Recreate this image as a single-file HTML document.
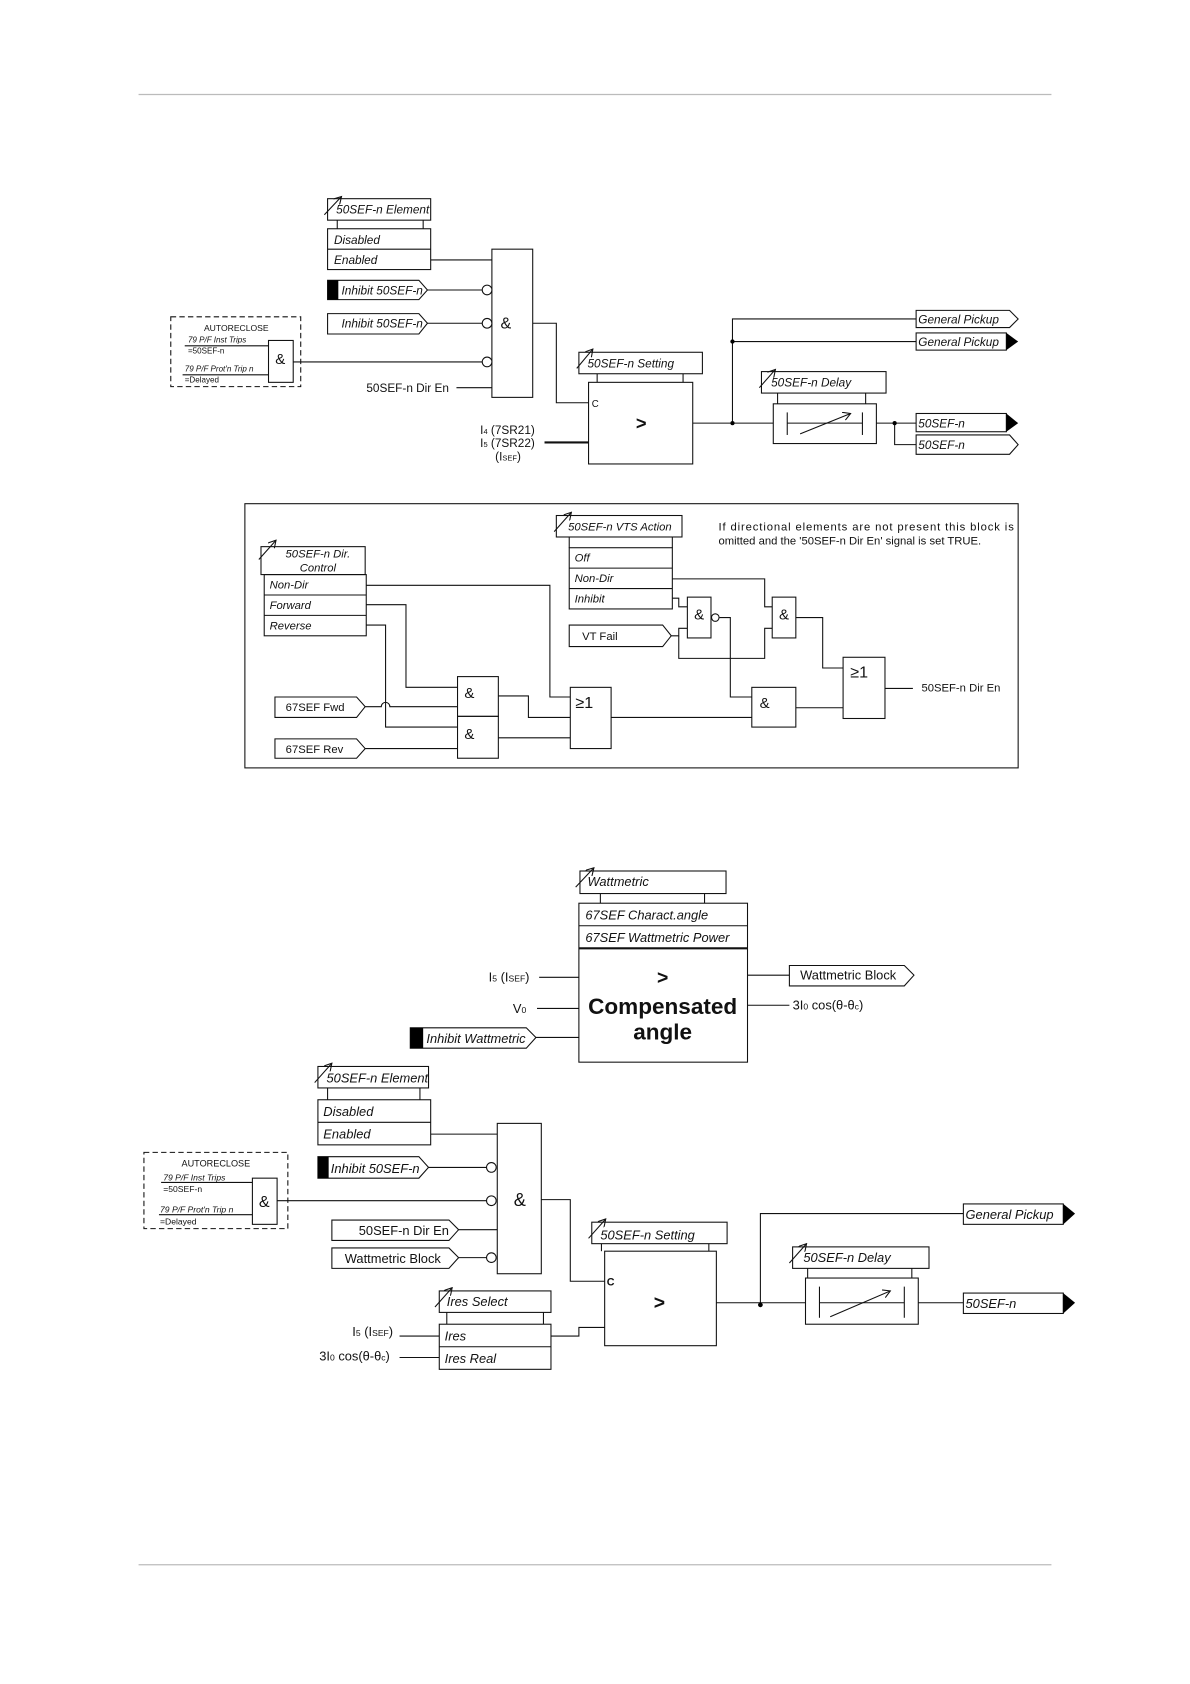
<!DOCTYPE html>
<html><head><meta charset="utf-8"><style>
html,body{margin:0;padding:0;background:#fff;}
svg{display:block;}
text{font-family:"Liberation Sans",Arial,sans-serif;fill:#111;}
.i{font-style:italic;}
</style></head><body>
<svg width="1190" height="1684" viewBox="0 0 1108 1568" xmlns="http://www.w3.org/2000/svg">
<defs>
<marker id="ah" markerWidth="8" markerHeight="8" refX="7" refY="4" orient="auto" markerUnits="userSpaceOnUse"><path d="M0,0 L7,4 L0,8" fill="none" stroke="#111" stroke-width="1"/></marker>
</defs>
<g stroke="#bbb" stroke-width="1.2"><line x1="129" y1="88" x2="979" y2="88"/><line x1="129" y1="1457" x2="979" y2="1457"/></g>

<g fill="none" stroke="#111" stroke-width="1">
<rect x="305" y="185" width="96" height="20"/><line x1="314" y1="205" x2="314" y2="213"/><line x1="394" y1="205" x2="394" y2="213"/>
<line x1="302" y1="200" x2="318" y2="183" marker-end="url(#ah)"/>
<rect x="305" y="213" width="96" height="38"/><line x1="305" y1="232" x2="401" y2="232"/>
<rect x="458" y="232" width="38" height="138"/>
<line x1="401" y1="242" x2="458" y2="242"/>
<path d="M305,261 H390 L398,270 L390,279 H305 Z"/>
<line x1="398" y1="270" x2="449" y2="270"/><circle cx="453.5" cy="270" r="4.5" fill="#fff"/>
<path d="M305,292 H390 L398,301 L390,311 H305 Z"/>
<line x1="398" y1="301" x2="449" y2="301"/><circle cx="453.5" cy="301" r="4.5" fill="#fff"/>
<rect x="159" y="295" width="121" height="65" stroke-dasharray="5,3"/>
<rect x="250" y="317" width="23" height="39"/>
<line x1="172" y1="322" x2="250" y2="322"/><line x1="170" y1="349" x2="250" y2="349"/>
<line x1="273" y1="337" x2="449" y2="337"/><circle cx="453.5" cy="337" r="4.5" fill="#fff"/>
<line x1="425" y1="361" x2="458" y2="361"/>
<polyline points="496,301 518,301 518,375 548,375"/>
<rect x="548" y="356" width="97" height="76"/>
<rect x="539" y="328" width="115" height="20"/><line x1="556" y1="348" x2="556" y2="356"/><line x1="636" y1="348" x2="636" y2="356"/>
<line x1="537" y1="343" x2="552" y2="325" marker-end="url(#ah)"/>
<line x1="507" y1="412" x2="548" y2="412" stroke-width="2"/>
<line x1="645" y1="394" x2="720" y2="394"/>
<polyline points="682,394 682,297 853,297"/><line x1="682" y1="318" x2="853" y2="318"/>
<path d="M853,289 H940 L948,297 L940,305 H853 Z"/>
<rect x="853" y="310" width="84" height="16"/>
<rect x="709" y="346" width="116" height="20"/><line x1="724" y1="366" x2="724" y2="376"/><line x1="806" y1="366" x2="806" y2="376"/>
<line x1="707" y1="361" x2="722" y2="344" marker-end="url(#ah)"/>
<rect x="720" y="376" width="96" height="37"/>
<line x1="733" y1="384" x2="733" y2="405"/><line x1="803" y1="384" x2="803" y2="405"/><line x1="733" y1="394" x2="803" y2="394"/>
<line x1="745" y1="404" x2="792" y2="385" marker-end="url(#ah)"/>
<line x1="816" y1="394" x2="853" y2="394"/><polyline points="833,394 833,414 853,414"/>
<rect x="853" y="385" width="84" height="17"/>
<path d="M853,405 H940 L948,414 L940,423 H853 Z"/>

<rect x="228" y="469" width="720" height="246"/>
<rect x="243" y="509" width="97" height="26"/>
<line x1="241" y1="521" x2="257" y2="503" marker-end="url(#ah)"/>
<rect x="246" y="535" width="95" height="57"/><line x1="246" y1="554" x2="341" y2="554"/><line x1="246" y1="573" x2="341" y2="573"/>
<rect x="518" y="480" width="117" height="20"/><line x1="530" y1="500" x2="530" y2="510"/><line x1="626" y1="500" x2="626" y2="510"/>
<line x1="516" y1="495" x2="532" y2="477" marker-end="url(#ah)"/>
<rect x="530" y="510" width="96" height="57"/><line x1="530" y1="529" x2="626" y2="529"/><line x1="530" y1="548" x2="626" y2="548"/>
<path d="M530,582 H617 L625,592 L617,602 H530 Z"/>
<rect x="640" y="556" width="22" height="38"/><circle cx="666" cy="575" r="3.5" fill="#fff"/>
<rect x="719" y="556" width="22" height="38"/>
<rect x="785" y="612" width="39" height="57"/>
<rect x="700" y="640" width="41" height="37"/>
<rect x="426" y="630" width="38" height="37"/><rect x="426" y="667" width="38" height="39"/>
<rect x="531" y="640" width="38" height="57"/>
<path d="M256,649 H332 L340,658 L332,668 H256 Z"/>
<path d="M256,688 H332 L340,697 L332,706 H256 Z"/>
<polyline points="341,545 512,545 512,649 531,649"/>
<polyline points="341,563 378,563 378,640 426,640"/>
<polyline points="341,582 359,582 359,677 426,677"/>
<path d="M340,658 H355 A4,4 0 0 1 363,658 H426"/>
<line x1="340" y1="697" x2="426" y2="697"/>
<polyline points="464,648 492,648 492,668 531,668"/>
<line x1="464" y1="687" x2="531" y2="687"/>
<line x1="569" y1="668" x2="700" y2="668"/>
<polyline points="626,539 712,539 712,565 719,565"/>
<polyline points="626,557 632,557 632,565 640,565"/>
<polyline points="625,592 632,592 632,585 640,585"/>
<polyline points="632,592 632,613 712,613 712,585 719,585"/>
<polyline points="670,575 680,575 680,649 700,649"/>
<polyline points="741,575 766,575 766,622 785,622"/>
<line x1="741" y1="659" x2="785" y2="659"/>
<line x1="824" y1="641" x2="850" y2="641"/>

<rect x="540" y="811" width="136" height="21"/><line x1="559" y1="832" x2="559" y2="841"/><line x1="656" y1="832" x2="656" y2="841"/>
<line x1="536" y1="826" x2="553" y2="808" marker-end="url(#ah)"/>
<rect x="539" y="841" width="157" height="148"/><line x1="539" y1="862" x2="696" y2="862"/><line x1="539" y1="883" x2="696" y2="883" stroke-width="2"/>
<line x1="502" y1="910" x2="539" y2="910"/><line x1="500" y1="939" x2="539" y2="939"/>
<path d="M382,957 H490 L499,966 L490,976 H382 Z"/><line x1="499" y1="966" x2="539" y2="966"/>
<line x1="696" y1="908" x2="735" y2="908"/>
<path d="M735,899 H842 L851,908 L842,918 H735 Z"/>
<line x1="696" y1="936" x2="735" y2="936"/>

<rect x="296" y="993" width="103" height="20"/><line x1="305" y1="1013" x2="305" y2="1024"/><line x1="391" y1="1013" x2="391" y2="1024"/>
<line x1="293" y1="1008" x2="309" y2="990" marker-end="url(#ah)"/>
<rect x="296" y="1024" width="105" height="42"/><line x1="296" y1="1045" x2="401" y2="1045"/>
<rect x="463" y="1046" width="41" height="140"/>
<line x1="401" y1="1056" x2="463" y2="1056"/>
<path d="M296,1077 H390 L399,1087 L390,1097 H296 Z"/><line x1="399" y1="1087" x2="453" y2="1087"/><circle cx="457.5" cy="1087" r="4.5" fill="#fff"/>
<rect x="134" y="1073" width="134" height="71" stroke-dasharray="5,3"/>
<rect x="235" y="1097" width="23" height="43"/>
<line x1="150" y1="1101" x2="235" y2="1101"/><line x1="148" y1="1131" x2="235" y2="1131"/>
<line x1="258" y1="1118" x2="453" y2="1118"/><circle cx="457.5" cy="1118" r="4.5" fill="#fff"/>
<path d="M309,1136 H418 L427,1145 L418,1155 H309 Z"/><line x1="427" y1="1145" x2="463" y2="1145"/>
<path d="M309,1162 H418 L427,1171 L418,1181 H309 Z"/><line x1="427" y1="1171" x2="453" y2="1171"/><circle cx="457.5" cy="1171" r="4.5" fill="#fff"/>
<polyline points="504,1117 531,1117 531,1193 563,1193"/>
<rect x="563" y="1165" width="104" height="88"/>
<rect x="551" y="1138" width="126" height="20"/><line x1="560" y1="1158" x2="560" y2="1165"/><line x1="660" y1="1158" x2="660" y2="1165"/>
<line x1="548" y1="1153" x2="564" y2="1135" marker-end="url(#ah)"/>
<rect x="409" y="1202" width="104" height="20"/><line x1="416" y1="1222" x2="416" y2="1233"/><line x1="506" y1="1222" x2="506" y2="1233"/>
<line x1="405" y1="1217" x2="421" y2="1199" marker-end="url(#ah)"/>
<rect x="409" y="1233" width="104" height="42"/><line x1="409" y1="1254" x2="513" y2="1254"/>
<line x1="372" y1="1244" x2="409" y2="1244"/><line x1="372" y1="1264" x2="409" y2="1264"/>
<polyline points="513,1244 539,1244 539,1236 563,1236"/>
<line x1="667" y1="1213" x2="750" y2="1213"/>
<polyline points="708,1215 708,1130 897,1130"/>
<rect x="897" y="1121" width="93" height="19"/>
<rect x="738" y="1161" width="127" height="20"/><line x1="752" y1="1181" x2="752" y2="1190"/><line x1="849" y1="1181" x2="849" y2="1190"/>
<line x1="735" y1="1176" x2="751" y2="1158" marker-end="url(#ah)"/>
<rect x="750" y="1190" width="105" height="43"/>
<line x1="763" y1="1198" x2="763" y2="1227"/><line x1="842" y1="1198" x2="842" y2="1227"/><line x1="763" y1="1213" x2="842" y2="1213"/>
<line x1="773" y1="1226" x2="829" y2="1202" marker-end="url(#ah)"/>
<line x1="855" y1="1213" x2="897" y2="1213"/>
<rect x="897" y="1204" width="93" height="19"/>
</g>

<g fill="#000">
<rect x="305" y="261" width="10" height="18"/>
<polygon points="937,310 948,318 937,326"/>
<polygon points="937,385 948,394 937,402"/>
<circle cx="682" cy="394" r="2"/><circle cx="682" cy="318" r="2"/><circle cx="833" cy="394" r="2"/>
<rect x="382" y="957" width="12" height="19"/>
<rect x="296" y="1077" width="10" height="20"/>
<polygon points="990,1121 1001,1130 990,1140"/>
<polygon points="990,1204 1001,1213 990,1223"/>
<circle cx="708" cy="1215" r="2.2"/>
</g>

<g font-size="11">
<text x="313" y="199" class="i">50SEF-n Element</text>
<text x="311" y="227" class="i">Disabled</text>
<text x="311" y="246" class="i">Enabled</text>
<text x="318" y="274" class="i">Inhibit 50SEF-n</text>
<text x="318" y="305" class="i">Inhibit 50SEF-n</text>
<text x="471" y="306" font-size="15" text-anchor="middle">&amp;</text>
<text x="220" y="308" font-size="8" text-anchor="middle">AUTORECLOSE</text>
<text x="175" y="319" font-size="7.5" class="i">79 P/F Inst Trips</text>
<text x="175" y="329" font-size="7.5">=50SEF-n</text>
<text x="172" y="346" font-size="7.5" class="i">79 P/F Prot'n Trip n</text>
<text x="172" y="356" font-size="7.5">=Delayed</text>
<text x="261" y="339" font-size="14" text-anchor="middle">&amp;</text>
<text x="418" y="365" text-anchor="end">50SEF-n Dir En</text>
<text x="547" y="342" class="i">50SEF-n Setting</text>
<text x="551" y="379" font-size="9">C</text>
<text x="597" y="400" font-size="17" font-weight="bold" text-anchor="middle">&gt;</text>
<text x="498" y="404" text-anchor="end">I<tspan font-size="7">4</tspan> (7SR21)</text>
<text x="498" y="416" text-anchor="end">I<tspan font-size="7">5</tspan> (7SR22)</text>
<text x="485" y="429" text-anchor="end">(I<tspan font-size="7">SEF</tspan>)</text>
<text x="855" y="301" class="i">General Pickup</text>
<text x="855" y="322" class="i">General Pickup</text>
<text x="718" y="360" class="i">50SEF-n Delay</text>
<text x="855" y="398" class="i">50SEF-n</text>
<text x="855" y="418" class="i">50SEF-n</text>
</g>

<g font-size="10.5">
<text x="296" y="519" class="i" text-anchor="middle">50SEF-n Dir.</text>
<text x="296" y="532" class="i" text-anchor="middle">Control</text>
<text x="251" y="548" class="i">Non-Dir</text>
<text x="251" y="567" class="i">Forward</text>
<text x="251" y="586" class="i">Reverse</text>
<text x="529" y="494" class="i">50SEF-n VTS Action</text>
<text x="535" y="523" class="i">Off</text>
<text x="535" y="542" class="i">Non-Dir</text>
<text x="535" y="561" class="i">Inhibit</text>
<text x="542" y="596">VT Fail</text>
<text x="669" y="494" textLength="275" lengthAdjust="spacing">If directional elements are not present this block is</text>
<text x="669" y="507">omitted and the '50SEF-n Dir En' signal is set TRUE.</text>
<text x="651" y="577" font-size="14" text-anchor="middle">&amp;</text>
<text x="730" y="577" font-size="14" text-anchor="middle">&amp;</text>
<text x="712" y="659" font-size="14" text-anchor="middle">&amp;</text>
<text x="437" y="650" font-size="14" text-anchor="middle">&amp;</text>
<text x="437" y="688" font-size="14" text-anchor="middle">&amp;</text>
<text x="544" y="659" font-size="15" text-anchor="middle">≥1</text>
<text x="800" y="631" font-size="15" text-anchor="middle">≥1</text>
<text x="858" y="644">50SEF-n Dir En</text>
<text x="266" y="662">67SEF Fwd</text>
<text x="266" y="701">67SEF Rev</text>
</g>

<g font-size="12">
<text x="547" y="825" class="i">Wattmetric</text>
<text x="545" y="856" class="i">67SEF Charact.angle</text>
<text x="545" y="877" class="i">67SEF Wattmetric Power</text>
<text x="617" y="916" font-size="18" font-weight="bold" text-anchor="middle">&gt;</text>
<text x="617" y="944" font-size="21" font-weight="bold" text-anchor="middle">Compensated</text>
<text x="617" y="968" font-size="21" font-weight="bold" text-anchor="middle">angle</text>
<text x="493" y="914" text-anchor="end">I<tspan font-size="8">5</tspan> (I<tspan font-size="8">SEF</tspan>)</text>
<text x="490" y="943" text-anchor="end">V<tspan font-size="8">0</tspan></text>
<text x="397" y="971" class="i">Inhibit Wattmetric</text>
<text x="745" y="912">Wattmetric Block</text>
<text x="738" y="940">3I<tspan font-size="8">0</tspan> cos(θ-θ<tspan font-size="8">c</tspan>)</text>
</g>

<g font-size="12">
<text x="304" y="1008" class="i">50SEF-n Element</text>
<text x="301" y="1039" class="i">Disabled</text>
<text x="301" y="1060" class="i">Enabled</text>
<text x="308" y="1092" class="i">Inhibit 50SEF-n</text>
<text x="201" y="1086" font-size="8.5" text-anchor="middle">AUTORECLOSE</text>
<text x="152" y="1099" font-size="8" class="i">79 P/F Inst Trips</text>
<text x="152" y="1110" font-size="8">=50SEF-n</text>
<text x="149" y="1129" font-size="8" class="i">79 P/F Prot'n Trip n</text>
<text x="149" y="1140" font-size="8">=Delayed</text>
<text x="246" y="1124" font-size="15" text-anchor="middle">&amp;</text>
<text x="484" y="1123" font-size="17" text-anchor="middle">&amp;</text>
<text x="418" y="1150" text-anchor="end">50SEF-n Dir En</text>
<text x="321" y="1176">Wattmetric Block</text>
<text x="559" y="1154" class="i">50SEF-n Setting</text>
<text x="565" y="1197" font-size="10" font-weight="bold">C</text>
<text x="614" y="1219" font-size="18" font-weight="bold" text-anchor="middle">&gt;</text>
<text x="416" y="1216" class="i">Ires Select</text>
<text x="414" y="1248" class="i">Ires</text>
<text x="414" y="1269" class="i">Ires Real</text>
<text x="366" y="1244" text-anchor="end">I<tspan font-size="8">5</tspan> (I<tspan font-size="8">SEF</tspan>)</text>
<text x="363" y="1267" text-anchor="end">3I<tspan font-size="8">0</tspan> cos(θ-θ<tspan font-size="8">c</tspan>)</text>
<text x="899" y="1135" class="i">General Pickup</text>
<text x="748" y="1175" class="i">50SEF-n Delay</text>
<text x="899" y="1218" class="i">50SEF-n</text>
</g>
</svg>
</body></html>
